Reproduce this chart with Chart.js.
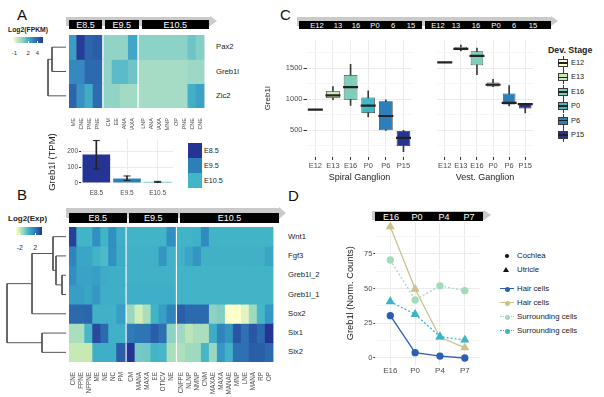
<!DOCTYPE html>
<html>
<head>
<meta charset="utf-8">
<title>Greb1l expression</title>
<script src="https://cdn.jsdelivr.net/npm/chart.js@4.4.1/dist/chart.umd.min.js"></script>
<style>
  body { margin: 0; background: #fff; }
  #fig { position: relative; width: 604px; height: 397px; overflow: hidden; background: #fff;
         font-family: "Liberation Sans", Arial, sans-serif; color: #222; }
  #fig canvas { position: absolute; }
  .t { position: absolute; white-space: nowrap; line-height: 1; }
  .b { position: absolute; }
</style>
</head>
<body>
<div id="fig"></div>
<script>
// --- Panel A: heatmap (log2 FPKM) ---
const colsA = ['ME','CNE','FPNE','NFPNE','CM','EE','MANA','MAXA','LNP','MANA','MAXA','MNP','OP','LPNE','DCNE','CNE'];
const groupSizesA = [4, 4, 8];
const stagesA = ['E8.5', 'E9.5', 'E10.5'];
const genesA = ['Pax2', 'Greb1l', 'Zic2'];
const pax2A   = [2.5, 5.0, 4.0, 4.2, 0.7, 0.7, 0.7, 2.2, 0.8, 0.8, 0.8, 0.8, 0.8, 0.8, 1.3, 0.9];
const greb1lA = [3.0, 3.0, 3.9, 3.9, 0.7, 1.6, 1.6, 1.3, 0.3, 0.3, 0.3, 0.3, 0.3, 0.3, 0.5, 0.5];
const zic2A   = [4.0, 2.8, 2.1, 3.8, 0.7, 0.7, 0.4, 0.4, 0.3, 0.3, 0.3, 0.3, 0.3, 0.3, 2.0, 2.4];

// --- Panel A: Greb1l TPM bars ---
const tpmStages = ['E8.5', 'E9.5', 'E10.5'];
const tpmMean = [180, 28, 7];
const tpmLow  = [89, 16, 4];
const tpmHigh = [268, 44, 10];

// --- Panel B: heatmap (log2 expression) ---
const colsB = ['CNE','FPNE','NFPNE','ME','NE','NC','PM',
               'CM','MANA','MAXA','EE','OTICV','NE',
               'CNFPE','NLNP','NMNP','CNM','MAXAE','MAXA','MANAE','MNP','LNE','MANA','RP','OP'];
const groupSizesB = [7, 6, 12];
const stagesB = ['E8.5', 'E9.5', 'E10.5'];
const genesB = ['Wnt1', 'Fgf3', 'Greb1l_2', 'Greb1l_1', 'Sox2', 'Six1', 'Six2'];
const wnt1B    = [3.5, 0.3, 0.3, 1.5, 0.3, 1.5, 0.5,  0.3, 0.3, 0.3, 0.3, 0.3, 1.5,  0.3, 0.3, 0.4, 1.6, 0.3, 0.3, 0.3, 0.3, 0.3, 0.3, 0.3, 0.3];
const fgf3B    = [1.8, 0.8, 0.8, 0.3, 0.1, 1.5, 0.6,  0.4, 0.4, 0.4, 0.4, 1.3, 0.4,  0.4, 0.8, 1.3, 0.4, 0.4, 0.4, 0.4, 0.4, 0.4, 0.4, 0.4, 0.8];
const greb1l2B = [1.5, 0.9, 0.9, 1.0, 0.6, 0.5, 0.5,  0.4, 0.4, 0.4, 0.4, 0.4, 0.4,  0.3, 0.3, 0.3, 0.3, 0.3, 0.3, 0.3, 0.3, 0.3, 0.3, 0.3, 0.3];
const greb1l1B = [1.0, 1.0, 0.8, 1.2, 0.5, 0.5, 0.5,  0.5, 0.5, 0.5, 0.5, 0.5, 0.5,  0.3, 0.3, 0.3, 0.3, 0.3, 0.3, 0.3, 0.3, 0.3, 0.3, 0.3, 0.3];
const sox2B    = [2.5, 2.5, 2.6, 0.4, 0.4, 0.4, 1.0, -1.2, -2.2, -1.5, 0.3, 1.0, 1.8,  2.8, 2.5, 2.5, 2.5, -1.0, -0.8, -3.0, -3.0, -2.5, -1.3, 0.2, 1.2];
const six1B    = [-1.5, -1.5, 0.2, 3.3, 2.5, 0.4, 0.4,  2.0, 2.2, 2.2, 2.8, 2.3, -1.0,  -1.3, -1.8, -1.5, -1.5, 0.6, 1.8, 1.3, 3.0, 2.3, 3.0, 2.5, 3.8];
const six2B    = [-2.0, -2.0, -2.0, 0.5, 0.5, 0.5, 2.8,  3.8, -0.6, -0.5, 0.3, 0.2, -1.5,  -1.6, -1.3, -1.3, 0.2, -1.2, 1.2, 0.4, 2.3, 2.3, 2.8, 2.8, 2.5];

// --- Dendrograms: merges as [nodeA, nodeB, height]; leaves are 0..n-1 ---
const mergesA = [[0, 1, 14], [3, 2, 18]];
const mergesB = [[2, 3, 4], [1, 7, 10], [0, 8, 13], [9, 4, 34], [5, 6, 24], [10, 11, 59]];

// --- Panel C: boxplots ---
const devStages = ['E12', 'E13', 'E16', 'P0', 'P6', 'P15'];
const ribbonStagesC = ['E12', '13', '16', 'P0', '6', '15'];
const spiralLo  = [829, 990, 899, 712, 495, 152];
const spiralQ1  = [829, 1015, 990, 773, 495, 242];
const spiralMed = [829, 1060, 1192, 894, 727, 374];
const spiralQ3  = [829, 1132, 1389, 1026, 965, 485];
const spiralHi  = [829, 1202, 1561, 1132, 990, 495];
const vestLo  = [1595, 1778, 1394, 1202, 889, 778];
const vestQ1  = [1595, 1788, 1545, 1202, 914, 848];
const vestMed = [1595, 1813, 1697, 1232, 939, 919];
const vestQ3  = [1595, 1848, 1773, 1268, 1091, 929];
const vestHi  = [1595, 1874, 1823, 1318, 1217, 929];

// --- Panel D: lines ---
const dStages = ['E16', 'P0', 'P4', 'P7'];
const cochleaHair     = [30.5, 3.8, 1.4, 0];
const utricleHair     = [94.6, 49.7, 14.9, 7.4];
const cochleaSurround = [70.6, 41.8, 52, 48.5];
const utricleSurround = [40.6, 31.5, 15.4, 13];

// ---------------------------------------------------------------
const fig = document.getElementById('fig');
Chart.defaults.font.family = '"Liberation Sans", Arial, sans-serif';
Chart.defaults.color = '#4d4d4d';
Chart.defaults.animation = false;
Chart.defaults.responsive = false;
Chart.defaults.devicePixelRatio = 1;
Chart.defaults.plugins.legend.display = false;
Chart.defaults.plugins.tooltip.enabled = false;

const stageColours = ['#ffffcc', '#c7e9b4', '#7fcdbb', '#41b6c4', '#2c7fb8', '#253494'];
const tpmColours = ['#253494', '#2c7fb8', '#41b6c4'];
const GRID = '#ebebeb', MINOR = '#f5f5f5', TICK = '#333';

function mkCanvas(left, top, w, h) {
  const c = document.createElement('canvas');
  c.width = w; c.height = h;
  c.style.left = left + 'px'; c.style.top = top + 'px';
  fig.appendChild(c);
  return c;
}

function txt(s, x, y, size, opt = {}) {
  const d = document.createElement('div');
  d.className = 't';
  d.textContent = s;
  d.style.left = x + 'px'; d.style.top = y + 'px';
  d.style.fontSize = size + 'px';
  const ax = opt.align === 'c' ? '-50%' : opt.align === 'r' ? '-100%' : '0';
  d.style.transform = `translate(${ax},-50%)`;
  if (opt.bold) d.style.fontWeight = 'bold';
  d.style.color = opt.color || '#222';
  fig.appendChild(d);
  return d;
}

function box(x, y, w, h, css) {
  const d = document.createElement('div');
  d.className = 'b';
  d.style.left = x + 'px'; d.style.top = y + 'px';
  d.style.width = w + 'px'; d.style.height = h + 'px';
  Object.assign(d.style, css);
  fig.appendChild(d);
  return d;
}

function makeCmap(stops) {
  const rgb = stops.map(([v, h]) => [v, parseInt(h.slice(1, 3), 16), parseInt(h.slice(3, 5), 16), parseInt(h.slice(5, 7), 16)]);
  return v => {
    if (v <= rgb[0][0]) return `rgb(${rgb[0].slice(1)})`;
    for (let i = 1; i < rgb.length; i++) {
      if (v <= rgb[i][0]) {
        const a = rgb[i - 1], b = rgb[i], t = (v - a[0]) / (b[0] - a[0]);
        return 'rgb(' + [1, 2, 3].map(k => Math.round(a[k] + (b[k] - a[k]) * t)).join(',') + ')';
      }
    }
    return `rgb(${rgb[rgb.length - 1].slice(1)})`;
  };
}

const stopsA = [[-1.3, '#ffffcc'], [-0.3, '#c2e7b8'], [0.3, '#a6dcc5'], [0.8, '#8cd2c6'], [2, '#43b0c8'], [3.2, '#3381bd'], [4.2, '#2b5ea9'], [5.2, '#253494']];
const stopsB = [[-3, '#ffffcc'], [-2, '#c7e9b4'], [-1, '#8dd3c3'], [0.3, '#42b4c8'], [1.5, '#318fc2'], [2.5, '#2c6aae'], [3.8, '#253494']];
const cmapA = makeCmap(stopsA);
const cmapB = makeCmap(stopsB);

// stage ribbon: grey arrow with black stage boxes on top
function ribbon(x0, x1, greyTop, greyH, blkTop, blkH, bars, size) {
  box(x0, greyTop, x1 - x0, greyH, { background: '#cacaca' });
  box(x1, greyTop - 1, 0, 0, { borderLeft: '7px solid #cacaca', borderTop: (greyH / 2 + 1) + 'px solid transparent',
    borderBottom: (greyH / 2 + 1) + 'px solid transparent' });
  bars.forEach(b => {
    box(b.l, blkTop, b.r - b.l, blkH, { background: '#000' });
    b.labels.forEach(([s, x]) => txt(s, x, blkTop + blkH / 2 + 0.5, size, { align: 'c', color: '#fff' }));
  });
}

function gradientLegend(x, y, w, h, stops) {
  const lo = stops[0][0], hi = stops[stops.length - 1][0];
  const g = stops.map(([v, c]) => `${c} ${((v - lo) / (hi - lo) * 100).toFixed(1)}%`).join(',');
  box(x, y, w, h, { background: `linear-gradient(to right, ${g})` });
  return v => x + (v - lo) / (hi - lo) * w;
}

function heatmap(left, top, w, hArea, hAxis, cols, sizes, gap, rows, cmap, fontSize) {
  const xs = []; let x = 0;
  sizes.forEach(n => { for (let i = 0; i < n; i++) xs.push(x++); x += gap; });
  const xmin = -0.5, xmax = xs[xs.length - 1] + 0.5;
  const thick = w / (xmax - xmin) + 0.4;
  const datasets = rows.map((vals, r) => ({
    data: vals.map((v, c) => ({ x: xs[c], y: [r - 0.5, r + 0.5] })),
    backgroundColor: vals.map(cmap), borderWidth: 0, grouped: false, barThickness: thick
  }));
  new Chart(mkCanvas(left, top, w, hArea + hAxis), {
    type: 'bar',
    data: { datasets },
    options: {
      layout: { padding: 0 },
      scales: {
        x: { type: 'linear', min: xmin, max: xmax, offset: false,
             grid: { display: false }, border: { display: false },
             afterBuildTicks: s => { s.ticks = xs.map(v => ({ value: v })); },
             afterFit: s => { s.height = hAxis; },
             ticks: { autoSkip: false, minRotation: 90, maxRotation: 90, padding: 2, color: '#4d4d4d',
                      font: { size: fontSize }, callback: (v, i) => cols[i] } },
        y: { type: 'linear', min: -0.5, max: rows.length - 0.5, reverse: true, display: false }
      }
    }
  });
}

function dendrogram(left, top, w, h, nLeaves, merges, xMax) {
  const pos = [], hgt = [];
  for (let i = 0; i < nLeaves; i++) { pos.push(i); hgt.push(0); }
  const datasets = merges.map(([a, b, ht]) => {
    const seg = [{ x: hgt[a], y: pos[a] }, { x: ht, y: pos[a] }, { x: ht, y: pos[b] }, { x: hgt[b], y: pos[b] }];
    pos.push((pos[a] + pos[b]) / 2); hgt.push(ht);
    return { data: seg, showLine: true, pointRadius: 0, borderColor: '#555', borderWidth: 1, clip: false };
  });
  new Chart(mkCanvas(left, top, w, h), {
    type: 'scatter',
    data: { datasets },
    options: {
      layout: { padding: 0 },
      scales: {
        x: { type: 'linear', min: -1, max: xMax, reverse: true, display: false },
        y: { type: 'linear', min: -0.5, max: nLeaves - 0.5, reverse: true, display: false }
      }
    }
  });
}

const flatTicks = { autoSkip: false, minRotation: 0, maxRotation: 0 };

// ================= Panel A =================
txt('A', 17, 14, 15, { color: '#111' });
txt('Log2(FPKM)', 8, 29.5, 6.8, { bold: true });
const posA = gradientLegend(13, 37, 30, 6, stopsA);
[-1, 2, 4].forEach(v => {
  box(posA(v) - 0.5, 41, 1, 2, { background: '#fff' });
  txt(String(v), posA(v), 53, 6, { align: 'c', color: '#333' });
});
ribbon(66, 210, 17, 9, 20, 9.3, [
  { l: 69, r: 102, labels: [[stagesA[0], 85.5]] },
  { l: 105, r: 138.5, labels: [[stagesA[1], 121.7]] },
  { l: 141.5, r: 209, labels: [[stagesA[2], 175.2]] }
], 9);
heatmap(69, 35, 140, 73, 22, colsA, groupSizesA, 0.33, [pax2A, greb1lA, zic2A], cmapA, 5.5);
dendrogram(44, 35, 23, 73, 3, mergesA, 22);
genesA.forEach((g, i) => txt(g, 216, 35 + (i + 0.5) * 73 / 3, 7.7));

// Greb1l TPM bar chart
new Chart(mkCanvas(47, 132, 131, 66), {
  type: 'bar',
  data: {
    labels: tpmStages,
    datasets: [
      { data: tpmMean, backgroundColor: tpmColours, barPercentage: 0.9, categoryPercentage: 1, grouped: false, order: 3 },
      { data: tpmStages.map((s, i) => [tpmLow[i], tpmHigh[i]]), backgroundColor: '#222', barThickness: 1, grouped: false, order: 2 },
      { type: 'line', data: tpmHigh, showLine: false, pointStyle: 'line', pointRadius: 3.5, pointBorderWidth: 1, pointBorderColor: '#222', order: 1 },
      { type: 'line', data: tpmLow, showLine: false, pointStyle: 'line', pointRadius: 3.5, pointBorderWidth: 1, pointBorderColor: '#222', order: 1 }
    ]
  },
  options: {
    layout: { padding: { top: 7 } },
    scales: {
      x: { grid: { offset: false, color: GRID, tickLength: 0, drawTicks: false }, border: { display: false },
           ticks: { ...flatTicks, font: { size: 6.5 }, padding: 4 }, afterFit: s => { s.height = 13; } },
      y: { min: -13, max: 278,
           afterBuildTicks: s => { s.ticks = [0, 50, 100, 150, 200, 250].map(v => ({ value: v })); },
           ticks: { font: { size: 6.5 }, padding: 1, callback: v => v % 100 === 0 ? v : '' },
           grid: { color: c => c.tick && c.tick.value % 100 ? MINOR : GRID,
                   tickColor: c => c.tick && c.tick.value % 100 ? 'rgba(0,0,0,0)' : TICK, tickLength: 2 },
           border: { display: false },
           title: { display: true, text: 'Greb1l (TPM)', font: { size: 9.5 }, color: '#222', padding: { top: 0, bottom: 2 } },
           afterFit: s => { s.width = 34; } }
    }
  }
});
tpmStages.forEach((s, i) => {
  box(188, 143 + i * 15, 14, 15, { background: tpmColours[i] });
  txt(s, 204, 150.5 + i * 15, 7.2);
});

// ================= Panel B =================
txt('B', 17, 194, 15, { color: '#111' });
txt('Log2(Exp)', 8, 219, 8, { bold: true });
const posB = gradientLegend(16, 227, 26, 8, stopsB);
[-2, 2].forEach(v => {
  box(posB(v) - 0.5, 233, 1, 2, { background: '#fff' });
  txt(String(v), posB(v), 247, 7, { align: 'c', color: '#333' });
});
ribbon(66, 279, 208, 10, 213, 9.5, [
  { l: 69, r: 126.5, labels: [[stagesB[0], 97.7]] },
  { l: 129, r: 177.5, labels: [[stagesB[1], 153.3]] },
  { l: 180, r: 279, labels: [[stagesB[2], 229.5]] }
], 9);
const rowsB = [wnt1B, fgf3B, greb1l2B, greb1l1B, sox2B, six1B, six2B];
heatmap(69, 227, 210, 135, 35, colsB, groupSizesB, 0.3, rowsB, cmapB, 6.3);
dendrogram(4, 227, 63, 135, 7, mergesB, 62);
genesB.forEach((g, i) => txt(g, 288, 227 + (i + 0.5) * 135 / 7, 7.7));

// ================= Panel C =================
txt('C', 280, 14, 15, { color: '#111' });
const ribbonXC1 = [317, 338, 356, 375, 393, 411];
const ribbonXC2 = [438, 456, 476, 496, 514, 533];
ribbon(297, 551, 17, 9, 21, 8.3, [
  { l: 299, r: 422, labels: ribbonStagesC.map((s, i) => [s, ribbonXC1[i]]) },
  { l: 425, r: 551, labels: ribbonStagesC.map((s, i) => [s, ribbonXC2[i]]) }
], 7.6);

function boxFacet(left, width, yAxisW, stats, title, showY) {
  const [lo, q1, med, q3, hi] = stats;
  return new Chart(mkCanvas(left, 30, width, 153), {
    type: 'bar',
    data: {
      labels: devStages,
      datasets: [
        { data: devStages.map((s, i) => [lo[i], hi[i]]), backgroundColor: '#3a3a3a', barThickness: 1, grouped: false, order: 3 },
        { data: devStages.map((s, i) => [q1[i], q3[i]]), backgroundColor: stageColours, borderColor: '#3a3a3a',
          borderWidth: 0.8, borderSkipped: false, barPercentage: 0.78, categoryPercentage: 1, grouped: false, order: 2 },
        { type: 'line', data: med, showLine: false, pointStyle: 'line', pointRadius: 7.5, pointBorderWidth: 2.2,
          pointBorderColor: '#222', order: 1 }
      ]
    },
    options: {
      layout: { padding: { top: 3 } },
      scales: {
        x: { grid: { offset: false, color: GRID, tickColor: TICK, tickLength: 3 }, border: { display: false },
             ticks: { ...flatTicks, font: { size: 7.5 }, padding: 1 },
             title: { display: true, text: title, font: { size: 9 }, color: '#222', padding: { top: 1, bottom: 0 } },
             afterFit: s => { s.height = 26; } },
        y: { min: 64, max: 1960,
             afterBuildTicks: s => { s.ticks = [250, 500, 750, 1000, 1250, 1500, 1750].map(v => ({ value: v })); },
             ticks: { display: showY, font: { size: 7.5 }, padding: 1, callback: v => v % 500 === 0 ? v : '' },
             grid: { color: c => c.tick && c.tick.value % 500 ? MINOR : GRID, drawTicks: showY,
                     tickColor: c => c.tick && c.tick.value % 500 ? 'rgba(0,0,0,0)' : TICK, tickLength: 3 },
             border: { display: false },
             title: { display: showY, text: 'Greb1l', font: { size: 8 }, color: '#222', padding: { top: 0, bottom: 2 } },
             afterFit: s => { s.width = yAxisW; } }
      }
    }
  });
}
boxFacet(263, 159, 43.5, [spiralLo, spiralQ1, spiralMed, spiralQ3, spiralHi], 'Spiral Ganglion', true);
boxFacet(427, 116, 0.5, [vestLo, vestQ1, vestMed, vestQ3, vestHi], 'Vest. Ganglion', false);

txt('Dev. Stage', 548, 50, 8.8, { bold: true });
devStages.forEach((s, i) => {
  const cy = 63 + i * 14.4;
  box(562.5, cy - 7, 1, 14, { background: '#3a3a3a' });
  box(558, cy - 4, 10, 8, { background: stageColours[i], border: '0.8px solid #3a3a3a', boxSizing: 'border-box' });
  box(558, cy - 0.8, 10, 1.6, { background: '#222' });
  txt(s, 571, cy, 7.4);
});

// ================= Panel D =================
txt('D', 288, 195, 15, { color: '#111' });
const ribbonXD = [391, 417, 444, 469];
ribbon(372, 484, 210.5, 9.5, 211.7, 9.3, [
  { l: 375, r: 483, labels: dStages.map((s, i) => [s, ribbonXD[i]]) }
], 9);

const lineSet = (data, colour, shape, dash) => ({
  data: data.map((v, i) => ({ x: i, y: v })), borderColor: colour, backgroundColor: colour,
  pointBackgroundColor: colour, pointBorderColor: colour, borderWidth: 1.3, borderDash: dash,
  pointStyle: shape, pointRadius: shape === 'triangle' ? 4 : 3, clip: false
});
new Chart(mkCanvas(345, 216, 140, 165), {
  type: 'line',
  data: {
    datasets: [
      lineSet(cochleaSurround, '#a3dbbd', 'circle', [2, 2]),
      lineSet(utricleSurround, '#38b5c6', 'triangle', [2, 2]),
      lineSet(utricleHair, '#cbc28e', 'triangle', []),
      lineSet(cochleaHair, '#2b5fb4', 'circle', [])
    ]
  },
  options: {
    layout: { padding: { top: 6 } },
    scales: {
      x: { type: 'linear', min: -0.6, max: 3.6,
           afterBuildTicks: s => { s.ticks = [0, 1, 2, 3].map(v => ({ value: v })); },
           ticks: { ...flatTicks, font: { size: 8 }, padding: 1, callback: v => dStages[v] },
           grid: { color: GRID, drawTicks: false }, border: { display: false },
           afterFit: s => { s.height = 16.5; } },
      y: { min: -4.7, max: 98,
           afterBuildTicks: s => { s.ticks = [0, 12.5, 25, 37.5, 50, 62.5, 75, 87.5].map(v => ({ value: v })); },
           ticks: { font: { size: 7.5 }, padding: 1, callback: v => v % 25 === 0 ? v : '' },
           grid: { color: c => c.tick && c.tick.value % 25 ? MINOR : GRID,
                   tickColor: c => c.tick && c.tick.value % 25 ? 'rgba(0,0,0,0)' : TICK, tickLength: 2 },
           border: { display: false },
           title: { display: true, text: 'Greb1l (Norm. Counts)', font: { size: 9.3 }, color: '#222', padding: { top: 0, bottom: 2 } },
           afterFit: s => { s.width = 30.4; } }
    }
  }
});

// legend D
box(504.5, 254, 4, 4, { background: '#111', borderRadius: '50%' });
txt('Cochlea', 517, 256, 7.8);
box(503, 267, 0, 0, { borderLeft: '3px solid transparent', borderRight: '3px solid transparent', borderBottom: '5px solid #111' });
txt('Utricle', 517, 270, 7.8);
[['Hair cells', '#2b5fb4', 'solid'], ['Hair cells', '#cbc28e', 'solid'],
 ['Surrounding cells', '#a3dbbd', 'dotted'], ['Surrounding cells', '#38b5c6', 'dotted']].forEach(([s, c, st], i) => {
  const cy = 289 + i * 14;
  box(500, cy - 0.7, 14, 0, { borderTop: `1.4px ${st} ${c}` });
  box(504.5, cy - 2.5, 5, 5, { background: c, borderRadius: '50%' });
  txt(s, 517, cy, 7.8);
});
</script>
</body>
</html>
